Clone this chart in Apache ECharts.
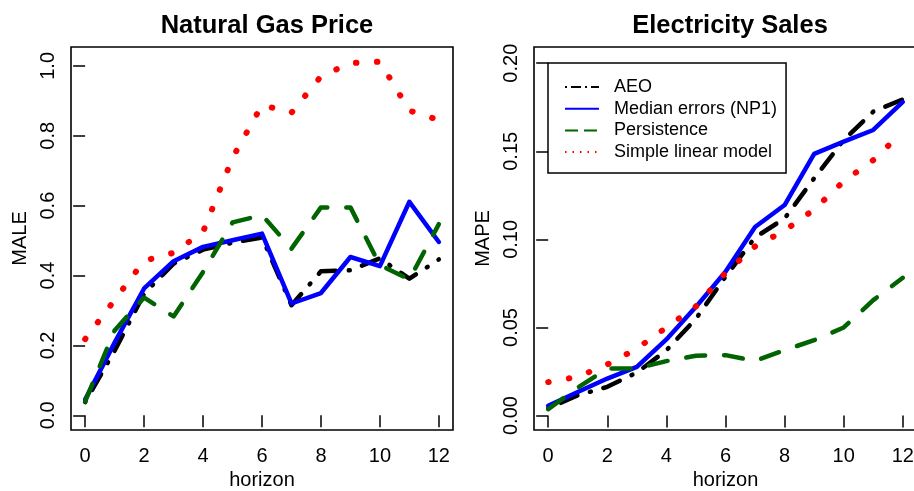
<!DOCTYPE html>
<html>
<head>
<meta charset="utf-8">
<script src="https://cdn.jsdelivr.net/npm/echarts@6/dist/echarts.min.js"></script>
<style>
html,body{margin:0;padding:0;background:#fff;}
#chart{width:914px;height:491px;}
</style>
</head>
<body>
<div id="chart"></div>
<script>
// ---- data ----
const horizon = [0,1,2,3,4,5,6,7,8,9,10,11,12];
const seriesNames = ['AEO','Median errors (NP1)','Persistence','Simple linear model'];

const gasAEO         = [0.038,0.185,0.348,0.434,0.474,0.494,0.509,0.315,0.412,0.415,0.449,0.391,0.446];
const gasNP1         = [0.045,0.208,0.363,0.441,0.482,0.501,0.520,0.320,0.350,0.453,0.427,0.611,0.496];
const gasPersistence = [0.040,0.243,0.337,0.283,0.410,0.552,0.573,0.477,0.595,0.595,0.430,0.389,0.547];
const gasSimple      = [0.218,0.330,0.442,0.465,0.525,0.737,0.888,0.866,0.970,1.008,1.012,0.872,0.845];

const elecAEO         = [0.0040,0.0115,0.0163,0.0244,0.0370,0.0550,0.0788,0.1011,0.1119,0.1347,0.1564,0.1725,0.1795];
const elecNP1         = [0.0055,0.0134,0.0210,0.0276,0.0432,0.0617,0.0816,0.1070,0.1195,0.1485,0.1555,0.1621,0.1780];
const elecPersistence = [0.0036,0.0158,0.0267,0.0267,0.0309,0.0339,0.0343,0.0310,0.0371,0.0428,0.0500,0.0655,0.0782];
const elecSimple      = [0.0190,0.0220,0.0290,0.0380,0.0500,0.0620,0.0810,0.0960,0.1050,0.1170,0.1330,0.1450,0.1610];

const xTicks = [0,2,4,6,8,10,12];
const gasYTicks = [0,0.2,0.4,0.6,0.8,1.0];
const elecYTicks = [0,0.05,0.10,0.15,0.20];
const titles = ['Natural Gas Price','Electricity Sales'];
const yNames = ['MALE','MAPE'];
const xName = 'horizon';

// ---- styles ----
const FONT = '"Liberation Sans", Arial, Helvetica, sans-serif';
const colors = ['#000000','#0000ff','#006400','#ff0000'];
const lineStyles = [
  {width:4.5, type:[1,13,18,13], cap:'round', join:'round'},
  {width:4.5, type:'solid', cap:'round', join:'round'},
  {width:4.5, type:[19,19], cap:'round', join:'round'},
  {width:6, type:[0.5,20.5], cap:'round', join:'round'}
];
const legendLineStyles = [
  {width:2, type:[2,4,10,4], cap:'butt'},
  {width:2, type:'solid', cap:'butt'},
  {width:2, type:[13,6], cap:'butt'},
  {width:2, type:[1.5,6], cap:'butt'}
];

const pair = (vals) => horizon.map((h,i) => [h, vals[i]]);
const panels = [
  [gasAEO, gasNP1, gasPersistence, gasSimple],
  [elecAEO, elecNP1, elecPersistence, elecSimple]
];

const series = [];
panels.forEach((p, pi) => {
  p.forEach((vals, si) => {
    series.push({
      type:'line', name: seriesNames[si],
      xAxisIndex: pi, yAxisIndex: pi,
      data: pair(vals),
      symbol:'none', animation:false, silent:true,
      itemStyle:{color: colors[si]},
      lineStyle: Object.assign({color: colors[si]}, lineStyles[si]),
      z: 2 + si
    });
  });
});

function xAxis(gi){
  return {
    type:'value', gridIndex: gi, min:-0.48, max:12.48,
    name: xName, nameLocation:'middle', nameGap:40,
    nameTextStyle:{fontSize:20, color:'#000', fontFamily:FONT},
    axisLine:{show:false},
    axisTick:{show:true, inside:false, length:12, lineStyle:{color:'#000', width:1.5}, customValues:xTicks},
    axisLabel:{show:true, customValues:xTicks, margin:16, fontSize:20, color:'#000', fontFamily:FONT},
    splitLine:{show:false}
  };
}
function yAxis(gi, ticks, min, max, dec){
  return {
    type:'value', gridIndex: gi, min:min, max:max,
    name: yNames[gi], nameLocation:'middle', nameGap:41, nameRotate:90,
    nameTextStyle:{fontSize:20, color:'#000', fontFamily:FONT},
    axisLine:{show:false},
    axisTick:{show:true, length:12, lineStyle:{color:'#000', width:1.5}, customValues:ticks},
    axisLabel:{show:true, customValues:ticks, rotate:90, margin:13, fontSize:20, color:'#000', fontFamily:FONT,
               formatter:(v)=>Number(v).toFixed(dec)},
    splitLine:{show:false}
  };
}

const option = {
  backgroundColor:'#ffffff',
  animation:false,
  title:[
    {text:titles[0], left:262, top:8, textAlign:'center',
     textStyle:{fontSize:25.5, fontWeight:'bold', color:'#000', fontFamily:FONT}},
    {text:titles[1], left:725, top:8, textAlign:'center',
     textStyle:{fontSize:25.5, fontWeight:'bold', color:'#000', fontFamily:FONT}}
  ],
  grid:[
    {left:71, top:47, width:382, height:383, show:true, borderColor:'#000', borderWidth:1.6,
     backgroundColor:'transparent', containLabel:false, outerBoundsMode:'none'},
    {left:534, top:47, width:383, height:383, show:true, borderColor:'#000', borderWidth:1.6,
     backgroundColor:'transparent', containLabel:false, outerBoundsMode:'none'}
  ],
  xAxis:[xAxis(0), xAxis(1)],
  yAxis:[
    yAxis(0, gasYTicks, -0.042, 1.054, 1),
    yAxis(1, elecYTicks, -0.0082, 0.2092, 2)
  ],
  legend:{
    show:true,
    orient:'vertical', left:548, top:63,
    padding:[15, 9, 12, 16],
    borderColor:'#000', borderWidth:1.5, backgroundColor:'#fff',
    itemWidth:34, itemHeight:16, itemGap:3.7,
    selectedMode:false,
    itemStyle:{opacity:0},
    textStyle:{fontSize:18, color:'#000', fontFamily:FONT, lineHeight:18, padding:[0,0,0,10]},
    data: seriesNames.map((n,i)=>({name:n,
      itemStyle:{opacity:0},
      lineStyle: Object.assign({color:colors[i], opacity:1}, legendLineStyles[i])}))
  },
  series: series
};

const chart = echarts.init(document.getElementById('chart'), null, {renderer:'canvas'});
chart.setOption(option);
</script>
</body>
</html>
